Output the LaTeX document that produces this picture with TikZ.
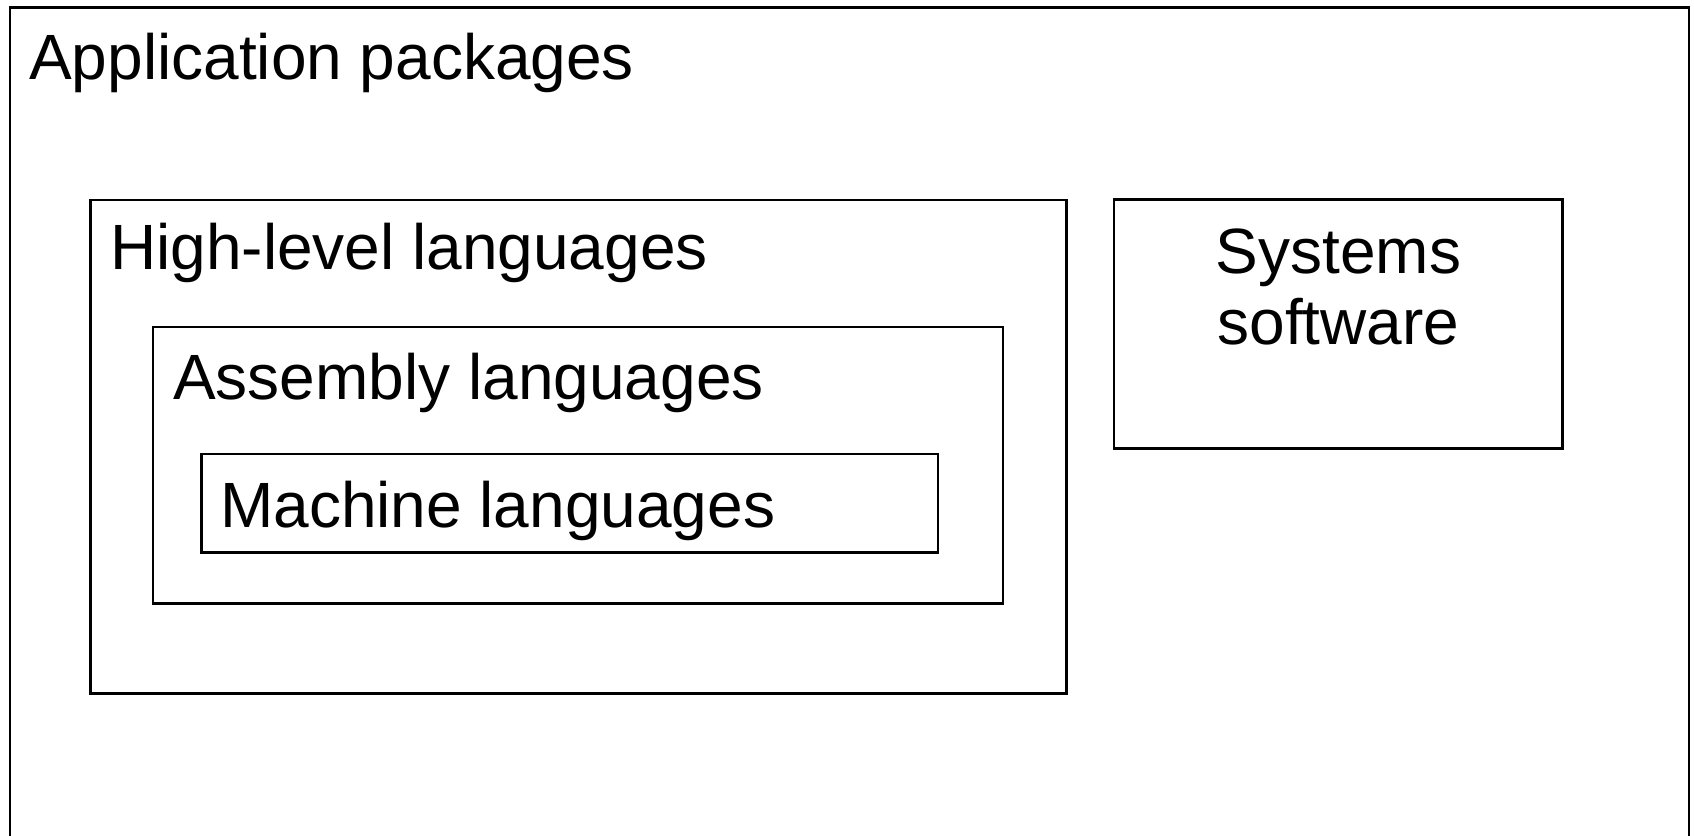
\documentclass[tikz,border=0pt]{standalone}
\usepackage{fontspec}
\setmainfont{Liberation Sans}
\begin{document}
\begin{tikzpicture}[x=1pt,y=-1pt,
  box/.style={draw=black,line width=2.2pt,fill=none},
  outerbox/.style={draw=black,line width=2.6pt},
  lbl/.style={inner sep=0pt,font=\fontsize{64}{70}\selectfont}]
\useasboundingbox (0,0) rectangle (1694,835);
\clip (0,0) rectangle (1694,835);
\fill[white] (0,0) rectangle (1694,835);
% boxes
\draw[outerbox] (10,7.5) rectangle (1689,860);
\draw[box] (90.5,200) rectangle (1066.5,693.5);
\draw[box] (153,327) rectangle (1003,603.5);
\draw[box] (201.5,454) rectangle (938,552.5);
\draw[box] (1114,199.5) rectangle (1562.5,448.5);
% labels
\node[lbl,anchor=base west] (app) at (29,79.3) {Application packages};
\node[lbl,anchor=base west] (hl) at (110,269) {High-level languages};
\node[lbl,anchor=base west] (asm) at (173,399.3) {Assembly languages};
\node[lbl,anchor=base west] (mach) at (220,527.3) {Machine languages};
\node[lbl,anchor=base] (sys1) at (1338.5,273) {Systems};
\node[lbl,anchor=base] (sys2) at (1338.5,344.5) {software};
\end{tikzpicture}
\end{document}
